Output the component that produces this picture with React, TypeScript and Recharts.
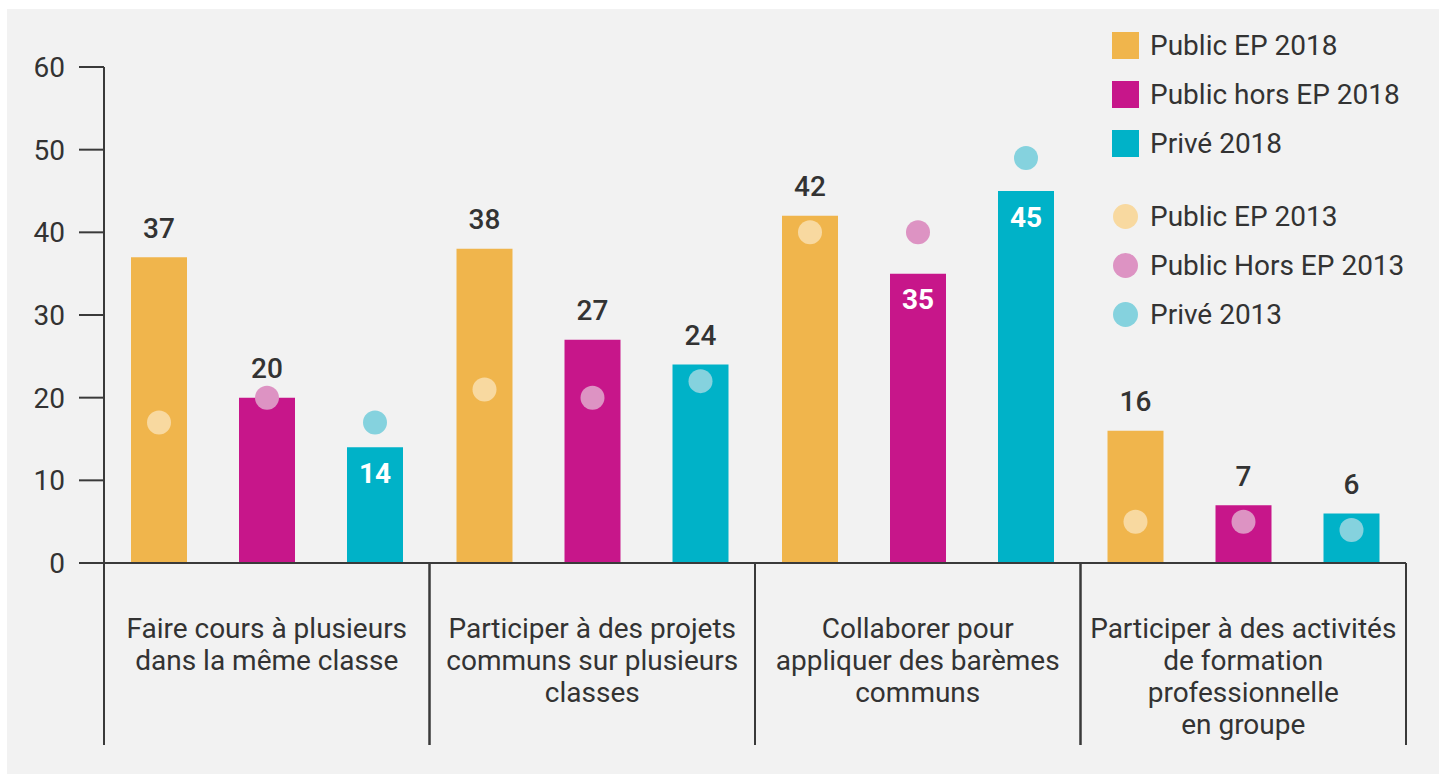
import React from 'react'
import { BarChart, Bar, XAxis, YAxis, LabelList } from 'recharts'

const categories = [
  'Faire cours à plusieurs\ndans la même classe',
  'Participer à des projets\ncommuns sur plusieurs\nclasses',
  'Collaborer pour\nappliquer des barèmes\ncommuns',
  'Participer à des activités\nde formation\nprofessionnelle\nen groupe',
]
const publicEp2018 = [37, 38, 42, 16]
const publicHorsEp2018 = [20, 27, 35, 7]
const prive2018 = [14, 24, 45, 6]
const publicEp2013 = [17, 21, 40, 5]
const publicHorsEp2013 = [20, 20, 40, 5]
const prive2013 = [17, 22, 49, 4]
const yTicks = [0, 10, 20, 30, 40, 50, 60]

const barSeries = [
  { key: 'ep18', name: 'Public EP 2018', color: '#f0b54c', values: publicEp2018, old: publicEp2013 },
  { key: 'hors18', name: 'Public hors EP 2018', color: '#c7168a', values: publicHorsEp2018, old: publicHorsEp2013 },
  { key: 'prive18', name: 'Privé 2018', color: '#00b2c8', values: prive2018, old: prive2013 },
]
const dotSeries = [
  { key: 'ep13', name: 'Public EP 2013', color: '#f8d9a0', values: publicEp2013 },
  { key: 'hors13', name: 'Public Hors EP 2013', color: '#dd93c3', values: publicHorsEp2013 },
  { key: 'prive13', name: 'Privé 2013', color: '#85d2de', values: prive2013 },
]

const data = categories.map((cat, i) => {
  const row: any = { cat }
  barSeries.forEach((s) => (row[s.key] = s.values[i]))
  dotSeries.forEach((s) => (row[s.key] = s.values[i]))
  return row
})

const FONT = 'Roboto, "Noto Sans", sans-serif'
const FS = 28
const TEXT = '#333333'
const LINE = '#3a3a3a'

const CategoryTick = (props: any) => {
  const { x, y, payload } = props
  const half = payload.offset || 325.5 / 2
  const lines = String(payload.value).split('\n')
  return (
    <g>
      <line x1={x - half} x2={x - half} y1={y} y2={y + 182} stroke={LINE} strokeWidth={2} />
      <line x1={x + half} x2={x + half} y1={y} y2={y + 182} stroke={LINE} strokeWidth={2} />
      {lines.map((l, i) => (
        <text key={i} x={x} y={y + 65 + i * 32} textAnchor="middle" dominantBaseline="central"
          fontSize={FS} fill={TEXT} fontFamily={FONT}>
          {l}
        </text>
      ))}
    </g>
  )
}

const makeLabel = (old: number[]) => (props: any) => {
  const { x, y, width, value, index } = props
  const inside = old[index] > value
  return (
    <text x={x + width / 2} y={inside ? y + 26 : y - 29} textAnchor="middle" dominantBaseline="central"
      fontSize={FS} fontWeight={inside ? 700 : 500} fill={inside ? '#ffffff' : TEXT} fontFamily={FONT}>
      {value}
    </text>
  )
}

const makeDot = (color: string) => (props: any) => {
  const { x, y, width } = props
  if (x == null || y == null) return <g />
  return <circle cx={x + width / 2} cy={y} r={12} fill={color} />
}

const LegendBox = () => (
  <div style={{ position: 'absolute', left: 1112, top: 32, fontFamily: FONT, fontSize: FS, color: TEXT }}>
    {barSeries.map((s, i) => (
      <div key={s.key} style={{ position: 'absolute', left: 0, top: i * 49, height: 27, display: 'flex', alignItems: 'center' }}>
        <div style={{ width: 27, height: 27, background: s.color, marginRight: 11 }} />
        <span style={{ whiteSpace: 'nowrap' }}>{s.name}</span>
      </div>
    ))}
    {dotSeries.map((s, i) => (
      <div key={s.key} style={{ position: 'absolute', left: 0, top: 171 + i * 49, height: 27, display: 'flex', alignItems: 'center' }}>
        <div style={{ width: 25, height: 25, borderRadius: '50%', background: s.color, marginLeft: 1, marginRight: 12 }} />
        <span style={{ whiteSpace: 'nowrap' }}>{s.name}</span>
      </div>
    ))}
  </div>
)

export default function App() {
  return (
    <div style={{ position: 'absolute', left: 0, top: 0, width: 1439, height: 774, background: '#ffffff' }}>
      <div style={{ position: 'absolute', left: 7, top: 9, width: 1432, height: 765, background: '#f2f2f2' }} />
      <div style={{ position: 'absolute', left: 0, top: 0 }}>
        <BarChart width={1439} height={774} data={data}
          margin={{ top: 67, right: 33, bottom: 29, left: 0 }}
          barCategoryGap={26} barGap={52}>
          <XAxis xAxisId="bars" dataKey="cat" tickLine={false} tickSize={0} tickMargin={0} height={182}
            axisLine={{ stroke: LINE, strokeWidth: 2 }} tick={<CategoryTick />} interval={0} />
          <XAxis xAxisId="dots" dataKey="cat" hide />
          <YAxis width={104} domain={[0, 60]} ticks={yTicks} tickSize={25} tickMargin={14}
            axisLine={{ stroke: LINE, strokeWidth: 2 }} tickLine={{ stroke: LINE, strokeWidth: 2 }}
            tick={{ fontSize: FS, fill: TEXT, fontFamily: FONT }} />
          {barSeries.map((s) => (
            <Bar key={s.key} xAxisId="bars" dataKey={s.key} name={s.name} fill={s.color} barSize={56} isAnimationActive={false}>
              <LabelList dataKey={s.key} content={makeLabel(s.old)} />
            </Bar>
          ))}
          {dotSeries.map((s) => (
            <Bar key={s.key} xAxisId="dots" dataKey={s.key} name={s.name} fill={s.color} barSize={56}
              shape={makeDot(s.color)} isAnimationActive={false} />
          ))}
        </BarChart>
      </div>
      <LegendBox />
    </div>
  )
}
